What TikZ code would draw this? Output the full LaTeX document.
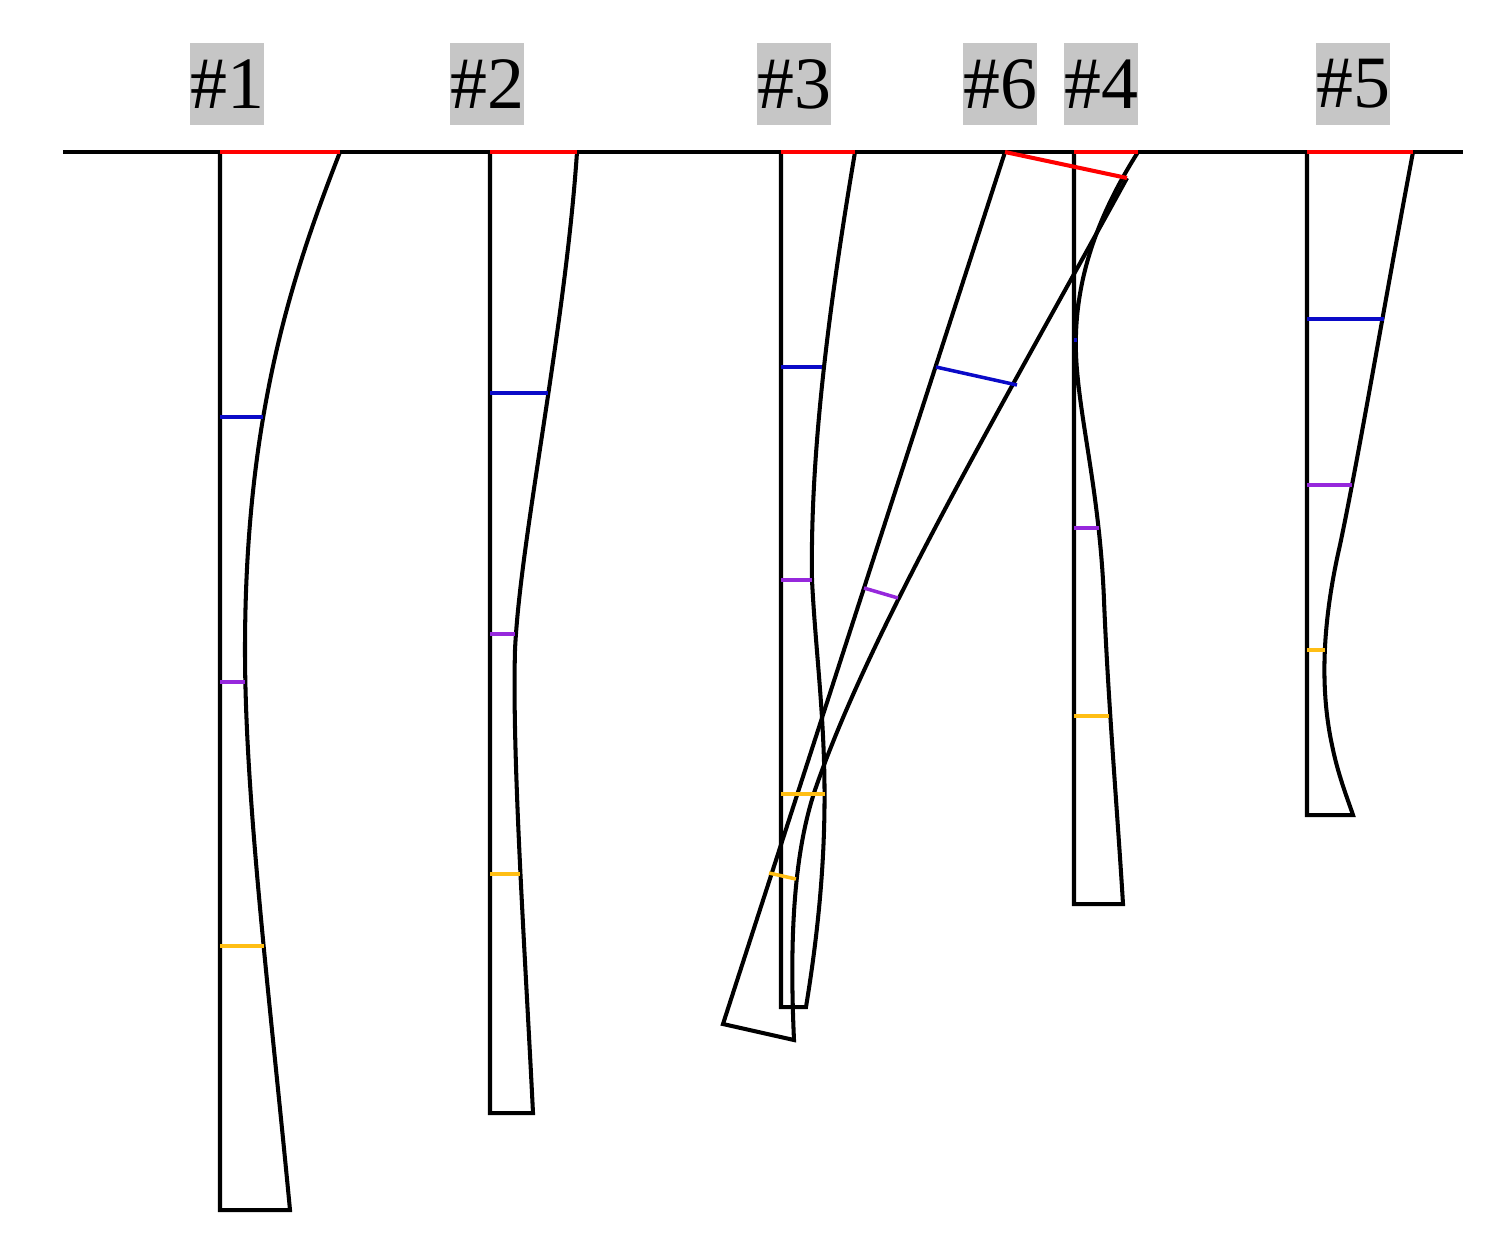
\documentclass[tikz,border=0pt]{standalone}
\usepackage{fontspec}
\setmainfont{Liberation Serif}
\definecolor{lblgray}{RGB}{198,198,198}
\definecolor{mblue}{RGB}{10,10,200}
\definecolor{mpurple}{RGB}{150,40,220}
\definecolor{morange}{RGB}{255,190,20}
\definecolor{mred}{RGB}{255,0,0}
\begin{document}
\begin{tikzpicture}[x=0.01cm,y=-0.01cm,
  lbl/.style={fill=lblgray,inner sep=0pt,minimum width=0.74cm,minimum height=0.82cm,font=\fontsize{21}{25}\selectfont},
  pile/.style={draw=black,line width=1.15pt,line join=miter},
  ground/.style={draw=black,line width=1.15pt},
  head/.style={draw=mred,line width=1.15pt},
  mk/.style={line width=1pt}]
\useasboundingbox (0,0) rectangle (1511,1253);
% labels
\node[lbl] (l1) at (227,84) {\#1};
\node[lbl] (l2) at (487,84) {\#2};
\node[lbl] (l3) at (794,84) {\#3};
\node[lbl] (l6) at (1000,84) {\#6};
\node[lbl] (l4) at (1101,84) {\#4};
\node[lbl] (l5) at (1353,84) {\#5};
% ground
\draw[ground] (63,152) -- (1463,152);
% pile 1
\draw[pile] (340,152) .. controls (290,280) and (245,420) .. (245,650)
  .. controls (245,800) and (270,1000) .. (290,1210) -- (220,1210) -- (220,152);
% pile 2
\draw[pile] (577,152) .. controls (565,330) and (520,540) .. (515,650)
  .. controls (512,760) and (525,950) .. (533,1113) -- (490,1113) -- (490,152);
% pile 3
\draw[pile] (855,152) .. controls (830,300) and (810,450) .. (812,580)
  .. controls (818,700) and (840,800) .. (806,1007) -- (781,1007) -- (781,152);
% pile 4
\draw[pile] (1138,152) .. controls (1095,220) and (1070,290) .. (1077,370)
  .. controls (1082,430) and (1100,500) .. (1104,600)
  .. controls (1108,700) and (1118,820) .. (1123,904) -- (1074,904) -- (1074,152);
% pile 5
\draw[pile] (1413,152) .. controls (1385,300) and (1360,450) .. (1340,545)
  .. controls (1325,610) and (1318,680) .. (1332,745)
  .. controls (1338,775) and (1348,800) .. (1353,815) -- (1307,815) -- (1307,152);
% pile 6 (inclined)
\draw[pile] (1127,178) .. controls (1000,410) and (870,630) .. (815,790)
  .. controls (795,850) and (789,930) .. (794,1040) -- (723,1024) -- (1005,152);
% pile heads
\draw[head] (220,152) -- (340,152);
\draw[head] (490,152) -- (577,152);
\draw[head] (781,152) -- (855,152);
\draw[head] (1074,152) -- (1138,152);
\draw[head] (1307,152) -- (1413,152);
\draw[head] (1005,152) -- (1127,178);
% blue markers
\draw[mk,mblue] (220,417) -- (263,417);
\draw[mk,mblue] (490,393) -- (548,393);
\draw[mk,mblue] (781,367) -- (822,367);
\draw[mk,mblue] (1074,340) -- (1077,340);
\draw[mk,mblue] (1307,319) -- (1384,319);
\draw[mk,mblue] (936,367) -- (1017,385);
% purple markers
\draw[mk,mpurple] (220,682) -- (245,682);
\draw[mk,mpurple] (490,634) -- (515,634);
\draw[mk,mpurple] (781,580) -- (812,580);
\draw[mk,mpurple] (1074,528) -- (1099,528);
\draw[mk,mpurple] (1307,485) -- (1352,485);
\draw[mk,mpurple] (864,588) -- (898,598);
% orange markers
\draw[mk,morange] (220,946) -- (264,946);
\draw[mk,morange] (490,874) -- (520,874);
\draw[mk,morange] (781,794) -- (825,794);
\draw[mk,morange] (1074,716) -- (1109,716);
\draw[mk,morange] (1307,650) -- (1325,650);
\draw[mk,morange] (769,873) -- (796,879);
\end{tikzpicture}
\end{document}
